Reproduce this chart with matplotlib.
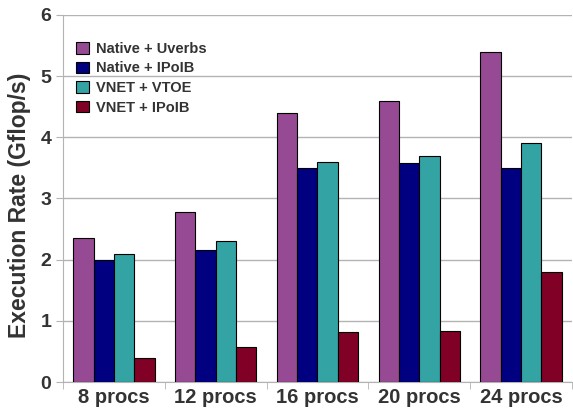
import numpy as np
import matplotlib.pyplot as plt

plt.rcParams['font.family'] = ['Liberation Sans', 'DejaVu Sans']

kategorije = ['8 procs', '12 procs', '16 procs', '20 procs', '24 procs']
serije = ['Native + Uverbs', 'Native + IPoIB', 'VNET + VTOE', 'VNET + IPoIB']
native_uverbs = [2.35, 2.78, 4.40, 4.60, 5.39]
native_ipoib = [2.00, 2.15, 3.50, 3.58, 3.50]
vnet_vtoe = [2.09, 2.30, 3.60, 3.70, 3.90]
vnet_ipoib = [0.40, 0.57, 0.81, 0.83, 1.79]
boje = ['#974a94', '#000080', '#33a3a3', '#800026']

fig = plt.figure(figsize=(5.73, 4.13), dpi=100)
ax = fig.add_axes([0.110, 0.075, 0.888, 0.889])

x = np.arange(len(kategorije))
sirina = 0.2
for i, (vals, c, lab) in enumerate(zip([native_uverbs, native_ipoib, vnet_vtoe, vnet_ipoib], boje, serije)):
    ax.bar(x - 0.3 + i * sirina, vals, sirina, color=c, edgecolor='black', linewidth=0.8, label=lab, zorder=3)

ax.set_xlim(-0.5, len(kategorije) - 0.5)
ax.set_ylim(0, 6)
ax.set_yticks(range(7))
ax.yaxis.grid(True, color='#b3b3b3', linewidth=1)
ax.set_axisbelow(True)

ax.set_xticks(x)
ax.set_xticklabels(kategorije, fontsize=14.5, fontweight='bold', color='#333333')
ax.set_xticks(np.arange(len(kategorije) + 1) - 0.5, minor=True)
ax.tick_params(axis='x', which='major', length=0, pad=4)
ax.tick_params(axis='x', which='minor', length=5, color='#b3b3b3')
ax.tick_params(axis='y', labelsize=14, length=5, color='#b3b3b3', labelcolor='#333333')
for t in ax.get_yticklabels():
    t.set_fontweight('bold')

ax.set_ylabel('Execution Rate (Gflop/s)', fontsize=16.5, fontweight='bold', color='#333333')
ax.yaxis.set_label_coords(-0.062, 0.48)

for s in ['top', 'right']:
    ax.spines[s].set_visible(False)
for s in ['left', 'bottom']:
    ax.spines[s].set_color('#b3b3b3')

leg = ax.legend(loc='upper left', bbox_to_anchor=(0.0, 0.962), frameon=False,
                prop={'weight': 'bold', 'size': 10.5}, handlelength=0.85, handleheight=0.85,
                labelspacing=0.38, handletextpad=0.5)
for t in leg.get_texts():
    t.set_color('#333333')

fig.savefig('out.png', dpi=100)
